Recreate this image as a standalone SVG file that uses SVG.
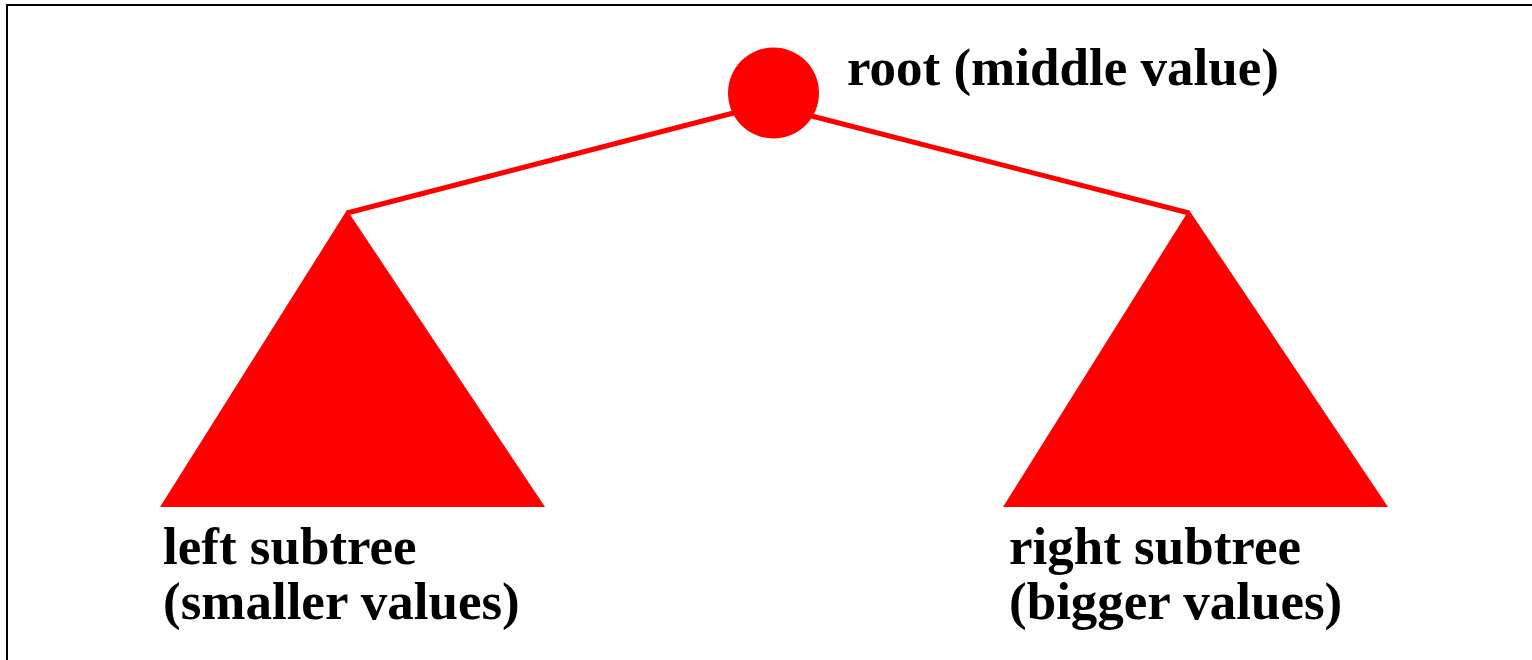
<svg xmlns="http://www.w3.org/2000/svg" width="1532" height="660" viewBox="0 0 1532 660">
<style>
.lbl{font-family:"Liberation Serif","Times New Roman",serif;font-weight:bold;font-size:53px;fill:#000}
.red{fill:#ff0000}
.edge{stroke:#ff0000;stroke-width:5;fill:none}
</style>
<rect x="0" y="0" width="1532" height="660" fill="#fff"/>
<path d="M7,660 V5 H1540" fill="none" stroke="#000" stroke-width="2"/>
<g id="connectors">
<line class="edge" x1="347" y1="213" x2="745" y2="110"/>
<line class="edge" x1="1189" y1="213" x2="800" y2="113"/>
</g>
<g id="root">
<circle class="red" cx="773.5" cy="93" r="45.5"/>
<text class="lbl" x="847" y="85">root (middle value)</text>
</g>
<g id="left">
<polygon class="red" points="347,210 545,507 160,507"/>
<text class="lbl" x="163" y="564">left subtree</text>
<text class="lbl" x="163" y="619">(smaller values)</text>
</g>
<g id="right">
<polygon class="red" points="1189,210 1388,507 1003,507"/>
<text class="lbl" x="1009" y="564">right subtree</text>
<text class="lbl" x="1009" y="619">(bigger values)</text>
</g>
</svg>
